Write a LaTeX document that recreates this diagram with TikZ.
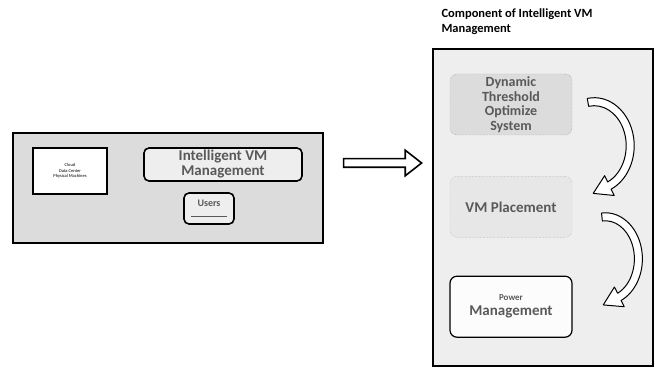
\documentclass[tikz,border=0pt]{standalone}
\usepackage{fontspec}
\setmainfont{Carlito}
\usetikzlibrary{arrows.meta,positioning,calc,shapes.arrows}
\definecolor{ScanGray}{HTML}{DCDCDC}
\definecolor{ScanLight}{HTML}{EEEEEE}
\definecolor{ScanDot}{HTML}{8C8C8C}
\tikzset{
  frame/.style={draw=black, line width=1.6pt, rectangle},
  comp/.style={rounded corners=7pt, align=center, font=\bfseries\fontsize{14}{14.5}\selectfont,
               text=black!65, minimum width=122pt, minimum height=61pt, inner sep=1pt},
  hollow/.style={draw=black, line width=1pt, fill=white, line join=round}
}
\begin{document}
\begin{tikzpicture}[x=1pt, y=1pt,
  bigarrow/.style={shape=single arrow, draw=black, line width=1.6pt, fill=white, inner xsep=0pt,
                   inner ysep=3.5pt, minimum height=78pt, single arrow head extend=8.5pt,
                   single arrow tip angle=76, single arrow head indent=0pt},
  ivmbox/.style={draw=black, line width=1.6pt, rounded corners=5pt, fill=ScanLight, align=center,
                 font=\bfseries\fontsize{15}{15}\selectfont, text=black!65,
                 minimum width=158pt, minimum height=33pt, inner sep=0pt}]
\useasboundingbox (0,0) rectangle (656,367);
% left part
\node[frame, fill=ScanGray, minimum width=310pt, minimum height=110pt] (lbox) at (168,179) {};
\node[frame, line width=1.4pt, fill=white, minimum width=74pt, minimum height=46pt, align=center,
      font=\fontsize{4.5}{5.5}\selectfont] (pm) at (70,196) {Cloud\\Data Center\\Physical Machines};
\node[ivmbox] (ivm) at (223,202.5) {Intelligent VM\\Management};
\node[draw=black, line width=1.6pt, rounded corners=5pt, fill=ScanLight, align=center,
      minimum width=50pt, minimum height=31pt, inner sep=1pt, font=\bfseries\fontsize{10}{10}\selectfont,
      text=black!65] (usr) at (209,158.5) {Users\\[1pt]\rule{36pt}{1.3pt}};
\node[bigarrow, right=19pt of lbox.east, yshift=25pt] (arr) {};
% right part
\node[frame, fill=ScanLight, minimum width=220pt, minimum height=317pt] (rbox) at (543,159.5) {};
\node[anchor=north west, align=left, font=\bfseries\fontsize{12.5}{15}\selectfont] (ttl)
      at (438,362) {Component of Intelligent VM\\Management};
\node[comp, draw=ScanDot, densely dotted, fill=ScanGray] (b1) at (511,262.5)
      {Dynamic\\Threshold\\Optimize\\System};
\node[comp, draw=ScanDot!70, densely dotted, fill=ScanLight!60!ScanGray, font=\bfseries\fontsize{15}{15}\selectfont,
      below=41pt of b1] (b2) {VM Placement};
\node[comp, draw=black, line width=1.2pt, fill=white!85!ScanLight, font=\bfseries\fontsize{15}{15}\selectfont,
      below=38pt of b2] (b3) {{\fontsize{9}{9}\selectfont Power}\\Management};
% curved arrows
\coordinate (c1) at ($(b1.east)!0.5!(b2.east)+(22,10)$);
\coordinate (e1) at ($(c1)+(-65:36 and 44)$);
\coordinate (f1) at ($(c1)+(-72:36 and 44)$);
\draw[hollow] ($(c1)+(100:40 and 48)$) arc[start angle=100, end angle=-65, x radius=40, y radius=48]
  -- ($(e1)!11pt!90:(f1)$) -- ($(e1)!18pt!(f1)$) -- ($(e1)!11pt!-90:(f1)$)
  -- ($(c1)+(-65:32 and 40)$) arc[start angle=-65, end angle=100, x radius=32, y radius=40] -- cycle;
\coordinate (c2) at ($(b2.east)!0.5!(b3.east)+(33,-2)$);
\coordinate (e2) at ($(c2)+(-65:33 and 42)$);
\coordinate (f2) at ($(c2)+(-72:33 and 42)$);
\draw[hollow] ($(c2)+(96:37 and 46)$) arc[start angle=96, end angle=-65, x radius=37, y radius=46]
  -- ($(e2)!11pt!90:(f2)$) -- ($(e2)!18pt!(f2)$) -- ($(e2)!11pt!-90:(f2)$)
  -- ($(c2)+(-65:29 and 38)$) arc[start angle=-65, end angle=96, x radius=29, y radius=38] -- cycle;
\end{tikzpicture}
\end{document}
